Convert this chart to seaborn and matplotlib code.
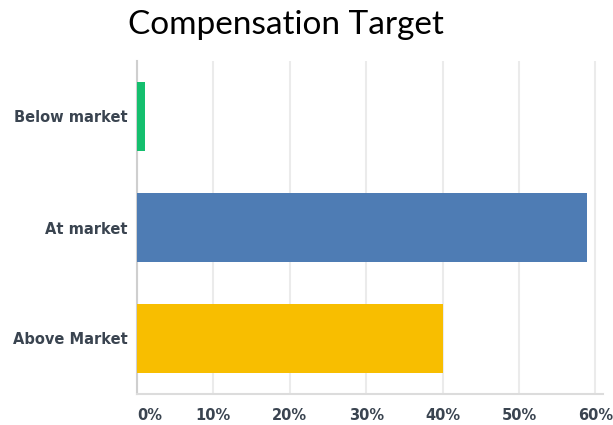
import pandas as pd
import matplotlib.pyplot as plt
import seaborn as sns

# data
categories = ['Below market', 'At market', 'Above Market']
shares = [1.0, 58.9, 40.1]
bar_colors = ['#14bf6e', '#4e7cb4', '#f8be00']
x_ticks = [0, 10, 20, 30, 40, 50, 60]
x_labels = ['0%', '10%', '20%', '30%', '40%', '50%', '60%']

df = pd.DataFrame({'Target': categories, 'Share': shares})

sns.set_style('white')
plt.rcParams['font.family'] = ['DejaVu Sans']

fig = plt.figure(figsize=(6.13, 4.25), dpi=100)
ax = fig.add_axes([137 / 613, 1 - 394 / 425, (603 - 137) / 613, (394 - 61) / 425])

sns.barplot(data=df, x='Share', y='Target', hue='Target', palette=bar_colors,
            order=categories, hue_order=categories, width=0.63, saturation=1,
            linewidth=0, legend=False, ax=ax, zorder=3)

ax.set_xlim(0, 61)
ax.set_ylim(2.5, -0.5)
ax.set_xticks(x_ticks)
ax.set_xticklabels(x_labels)
ax.set_xlabel('')
ax.set_ylabel('')

ax.grid(axis='x', color='#ebebeb', linewidth=1.5, zorder=0)
ax.grid(axis='y', visible=False)
for s in ['top', 'right']:
    ax.spines[s].set_visible(False)
ax.spines['left'].set_color('#cfcfcf')
ax.spines['bottom'].set_color('#dcdcdc')
ax.spines['left'].set_linewidth(1.5)
ax.spines['bottom'].set_linewidth(1.5)

ax.tick_params(axis='y', length=0, pad=6.5, labelsize=10.5, labelcolor='#3a4450')
ax.tick_params(axis='x', length=0, pad=10, labelsize=10.5, labelcolor='#3a4450')
for t in ax.get_yticklabels() + ax.get_xticklabels():
    t.set_fontweight('bold')
ax.get_xticklabels()[0].set_horizontalalignment('left')

fig.text(286 / 613, 1 - 25 / 425, 'Compensation Target', ha='center', va='center',
         fontsize=24, family=['Lato', 'DejaVu Sans'], color='black')

fig.savefig('out.png', dpi=100)
